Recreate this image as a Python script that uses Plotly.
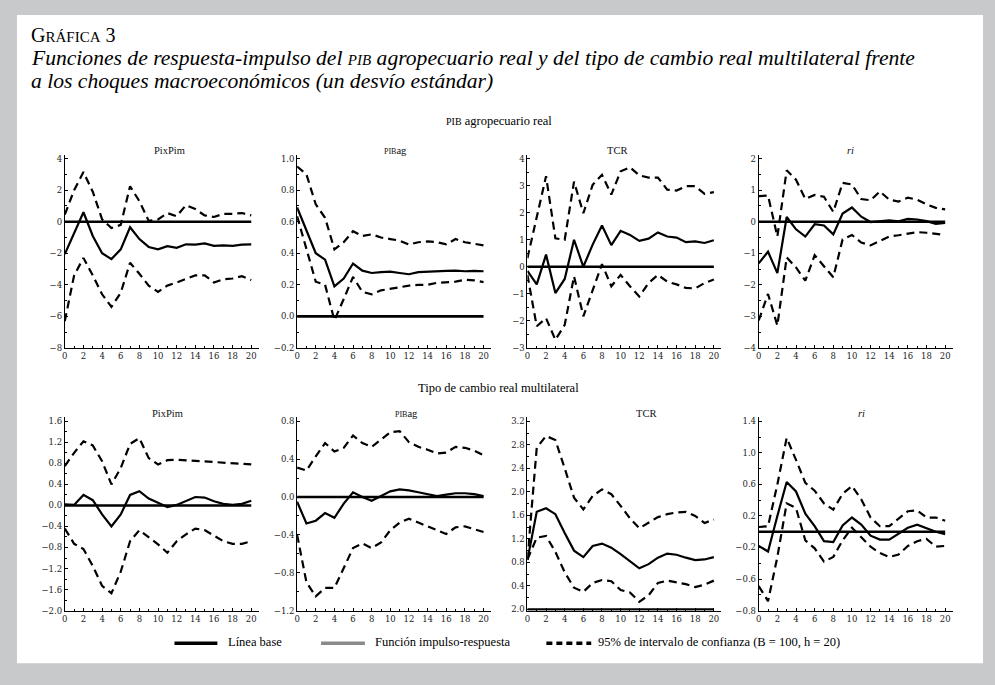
import plotly.graph_objects as go

# ---------------- data ----------------
horizon = list(range(21))
baseline_level = 0.0

# Row 1: PIB agropecuario real
pib_pixpim_irf = [-2.05, -0.7, 0.6, -0.9, -2.0, -2.37, -1.75, -0.35, -1.1, -1.6, -1.75, -1.55, -1.65, -1.43, -1.45, -1.37, -1.53, -1.5, -1.53, -1.45, -1.43]
pib_pixpim_up = [0.45, 2.0, 3.15, 1.9, 0.15, -0.4, -0.2, 2.25, 1.3, 0.05, 0.15, 0.55, 0.35, 1.05, 0.8, 0.4, 0.3, 0.5, 0.5, 0.55, 0.4]
pib_pixpim_lo = [-6.3, -3.4, -2.3, -3.4, -4.6, -5.4, -4.5, -2.6, -3.3, -4.05, -4.45, -4.05, -3.85, -3.65, -3.4, -3.4, -3.85, -3.65, -3.6, -3.45, -3.7]

pib_pibag_irf = [0.69, 0.55, 0.40, 0.36, 0.19, 0.24, 0.335, 0.29, 0.275, 0.28, 0.284, 0.275, 0.267, 0.28, 0.284, 0.284, 0.288, 0.29, 0.286, 0.288, 0.286]
pib_pibag_up = [0.95, 0.9, 0.71, 0.625, 0.425, 0.47, 0.54, 0.51, 0.52, 0.5, 0.49, 0.48, 0.455, 0.47, 0.475, 0.47, 0.457, 0.49, 0.47, 0.46, 0.45]
pib_pibag_lo = [0.635, 0.425, 0.22, 0.2, -0.025, 0.11, 0.25, 0.155, 0.14, 0.165, 0.175, 0.185, 0.195, 0.2, 0.2, 0.213, 0.217, 0.22, 0.232, 0.228, 0.217]

pib_tcr_irf = [-0.15, -0.65, 0.45, -0.97, -0.45, 1.0, 0.0, 0.82, 1.53, 0.8, 1.33, 1.18, 0.96, 1.04, 1.27, 1.12, 1.08, 0.91, 0.94, 0.88, 0.98]
pib_tcr_up = [0.32, 1.8, 3.35, 1.05, 1.0, 3.15, 1.98, 3.03, 3.4, 2.67, 3.53, 3.68, 3.38, 3.3, 3.3, 2.85, 2.82, 2.98, 2.98, 2.7, 2.76]
pib_tcr_lo = [-0.3, -2.2, -1.9, -2.7, -2.15, -0.35, -1.83, -0.9, 0.1, -0.72, -0.3, -0.72, -1.1, -0.6, -0.3, -0.55, -0.65, -0.78, -0.8, -0.6, -0.47]

pib_ri_irf = [-1.32, -0.95, -1.63, 0.15, -0.24, -0.47, -0.08, -0.12, -0.4, 0.26, 0.45, 0.16, -0.01, 0.01, 0.04, 0.01, 0.09, 0.07, 0.02, -0.07, -0.04]
pib_ri_up = [0.81, 0.83, -0.47, 1.63, 1.33, 0.72, 0.85, 0.79, 0.31, 1.23, 1.18, 0.72, 0.68, 0.96, 0.7, 0.64, 0.76, 0.7, 0.55, 0.44, 0.39]
pib_ri_lo = [-3.13, -2.29, -3.29, -1.13, -1.45, -1.87, -1.06, -1.4, -1.76, -0.56, -0.42, -0.66, -0.75, -0.61, -0.47, -0.43, -0.38, -0.33, -0.35, -0.38, -0.42]

# Row 2: Tipo de cambio real multilateral
tcr_pixpim_irf = [0.02, 0.01, 0.2, 0.1, -0.17, -0.4, -0.17, 0.2, 0.27, 0.13, 0.05, -0.03, 0.01, 0.08, 0.16, 0.15, 0.08, 0.03, 0.01, 0.03, 0.09]
tcr_pixpim_up = [0.75, 1.0, 1.22, 1.14, 0.84, 0.4, 0.71, 1.17, 1.28, 0.9, 0.78, 0.86, 0.87, 0.86, 0.85, 0.84, 0.83, 0.82, 0.81, 0.79, 0.78]
tcr_pixpim_lo = [-0.44, -0.73, -0.83, -1.15, -1.53, -1.67, -1.26, -0.68, -0.47, -0.61, -0.74, -0.9, -0.68, -0.55, -0.44, -0.47, -0.58, -0.68, -0.73, -0.73, -0.68]

tcr_pibag_irf = [-0.05, -0.28, -0.25, -0.17, -0.22, -0.07, 0.05, 0.0, -0.04, 0.01, 0.06, 0.08, 0.07, 0.05, 0.03, 0.01, 0.025, 0.04, 0.04, 0.03, 0.01]
tcr_pibag_up = [0.31, 0.28, 0.43, 0.57, 0.48, 0.52, 0.65, 0.57, 0.53, 0.61, 0.685, 0.695, 0.58, 0.53, 0.5, 0.46, 0.47, 0.53, 0.52, 0.49, 0.44]
tcr_pibag_lo = [-0.40, -0.9, -1.05, -0.96, -0.96, -0.75, -0.54, -0.49, -0.54, -0.48, -0.35, -0.27, -0.23, -0.27, -0.31, -0.35, -0.39, -0.32, -0.31, -0.34, -0.37]

tcr_tcr_irf = [0.84, 1.66, 1.72, 1.62, 1.3, 1.0, 0.89, 1.08, 1.12, 1.05, 0.94, 0.82, 0.70, 0.77, 0.88, 0.95, 0.93, 0.88, 0.84, 0.85, 0.89]
tcr_tcr_up = [0.85, 2.75, 2.95, 2.88, 2.4, 1.9, 1.7, 1.93, 2.04, 1.96, 1.76, 1.55, 1.38, 1.47, 1.57, 1.62, 1.65, 1.66, 1.59, 1.47, 1.53]
tcr_tcr_lo = [0.85, 1.22, 1.25, 0.98, 0.63, 0.37, 0.3, 0.45, 0.5, 0.48, 0.33, 0.29, 0.13, 0.24, 0.45, 0.49, 0.46, 0.43, 0.38, 0.42, 0.49]

tcr_ri_irf = [-0.18, -0.25, 0.2, 0.63, 0.51, 0.23, 0.07, -0.12, -0.13, 0.08, 0.18, 0.09, -0.05, -0.1, -0.1, -0.03, 0.05, 0.09, 0.04, 0.0, -0.03]
tcr_ri_up = [0.06, 0.07, 0.6, 1.19, 0.91, 0.62, 0.52, 0.36, 0.28, 0.48, 0.58, 0.41, 0.18, 0.07, 0.07, 0.16, 0.26, 0.27, 0.18, 0.18, 0.14]
tcr_ri_lo = [-0.69, -0.88, -0.32, 0.36, 0.3, -0.11, -0.21, -0.38, -0.32, -0.11, 0.05, -0.07, -0.19, -0.27, -0.32, -0.29, -0.18, -0.12, -0.09, -0.19, -0.18]

# tick labels (as printed in the original)
xtick_vals = list(range(0, 21, 2))
ytick_vals = [
    [-8, -6, -4, -2, 0, 2, 4],
    [-0.2, 0.0, 0.2, 0.4, 0.6, 0.8, 1.0],
    [-3, -2, -1, 0, 1, 2, 3, 4],
    [-4, -3, -2, -1, 0, 1, 2],
    [-2.0, -1.6, -1.2, -0.8, -0.4, 0.0, 0.4, 0.8, 1.2, 1.6],
    [-1.2, -0.8, -0.4, 0.0, 0.4, 0.8],
    [0.0, 0.4, 0.8, 1.2, 1.6, 2.0, 2.4, 2.8, 3.2],
    [-1.0, -0.6, -0.2, 0.2, 0.6, 1.0, 1.4],
]
ytick_text = [
    ["−8", "−6", "−4", "−2", "0", "2", "4"],
    ["−0.2", "0.0", "0.2", "0.4", "0.6", "0.8", "1.0"],
    ["−3", "−2", "−1", "0", "1", "2", "3", "4"],
    ["−4", "−3", "−2", "−1", "0", "1", "2"],
    ["−2.0", "−1.6", "−1.2", "−0.8", "−0.4", "0.0", "0.4", "0.8", "1.2", "1.6"],
    ["−1.2", "−0.8", "−0.4", "0.0", "0.4", "0.8"],
    ["2.0", "0.4", "0.8", "1.2", "1.6", "2.0", "2.4", "2.8", "3.2"],
    ["−0.8", "−0.6", "−0.2", "0.2", "0.6", "1.0", "1.4"],
]
ytick_minor = [1, 0.1, 0.5, 0.5, 0.2, 0.2, 0.2, 0.2]

panel_titles = ["PixPim", "<span style='font-size:8px'>PIB</span>ag", "TCR", "<i>ri</i>"] * 2
row_titles = ["<span style='font-size:10px'>PIB</span> agropecuario real", "Tipo de cambio real multilateral"]

series = [
    (pib_pixpim_irf, pib_pixpim_up, pib_pixpim_lo),
    (pib_pibag_irf, pib_pibag_up, pib_pibag_lo),
    (pib_tcr_irf, pib_tcr_up, pib_tcr_lo),
    (pib_ri_irf, pib_ri_up, pib_ri_lo),
    (tcr_pixpim_irf, tcr_pixpim_up, tcr_pixpim_lo),
    (tcr_pibag_irf, tcr_pibag_up, tcr_pibag_lo),
    (tcr_tcr_irf, tcr_tcr_up, tcr_tcr_lo),
    (tcr_ri_irf, tcr_ri_up, tcr_ri_lo),
]

legend_labels = ["Línea base", "Función impulso-respuesta", "95% de intervalo de confianza (B = 100, h = 20)"]

# ---------------- layout geometry (pixels) ----------------
W, H = 995, 685
col_left = [62, 295, 526, 758]
px_per_unit_x = 9.35
x_max = 20.8
row_top = [155, 420]
row_bot = [350, 615]
tick_top_px = [159, 424]
title_x_px = [[167, 394, 616, 850], [165, 405, 645, 861]]

def fx(px):
    return px / W

def fy(py):
    return 1 - py / H

SERIF = "Liberation Serif, Times New Roman, DejaVu Serif, serif"
TICKFONT = dict(family="DejaVu Serif, serif", size=8.5, color="#222")

fig = go.Figure()
layout = {}
annotations = []
shapes = []

# background: grey frame with white card
shapes.append(dict(type="rect", xref="paper", yref="paper", x0=fx(14), x1=fx(983),
                   y0=fy(668), y1=fy(14), fillcolor="white", line=dict(width=0), layer="below"))

DASH = "8px,5px"

for i in range(8):
    r, c = divmod(i, 4)
    n = i + 1
    xa = "x" if n == 1 else f"x{n}"
    ya = "y" if n == 1 else f"y{n}"
    xkey = "xaxis" if n == 1 else f"xaxis{n}"
    ykey = "yaxis" if n == 1 else f"yaxis{n}"
    irf, up, lo = series[i]

    fig.add_trace(go.Scatter(x=horizon, y=[baseline_level] * len(horizon), xaxis=xa, yaxis=ya,
                             mode="lines", line=dict(color="black", width=2.6),
                             showlegend=False, hoverinfo="skip"))
    fig.add_trace(go.Scatter(x=horizon, y=up, xaxis=xa, yaxis=ya, mode="lines",
                             line=dict(color="black", width=2.2, dash=DASH), showlegend=False))
    fig.add_trace(go.Scatter(x=horizon, y=lo, xaxis=xa, yaxis=ya, mode="lines",
                             line=dict(color="black", width=2.2, dash=DASH), showlegend=False))
    fig.add_trace(go.Scatter(x=horizon, y=irf, xaxis=xa, yaxis=ya, mode="lines",
                             line=dict(color="black", width=2.2), showlegend=False))

    x0 = col_left[c]
    x1 = x0 + x_max * px_per_unit_x
    tv = ytick_vals[i]
    span_ticks = tv[-1] - tv[0]
    ratio = (row_bot[r] - row_top[r]) / (row_bot[r] - tick_top_px[r])
    yr = [tv[0], tv[0] + span_ticks * ratio]
    if abs(tv[0] - baseline_level) < 1e-9:
        # baseline lies on the bottom axis: leave ~1px so the thick line is not clipped
        yr[0] = tv[0] - span_ticks * 1.2 / (row_bot[r] - tick_top_px[r])

    layout[xkey] = dict(domain=[fx(x0), fx(x1)], range=[0, x_max], anchor=ya,
                        tickvals=xtick_vals, ticktext=[str(v) for v in xtick_vals],
                        ticks="inside", ticklen=3, tickcolor="black", tickwidth=1,
                        showline=True, linecolor="black", linewidth=1,
                        mirror=False, showgrid=False, zeroline=False, tickfont=TICKFONT,
                        minor=dict(dtick=1, ticks="inside", ticklen=2, tickcolor="black"))
    layout[ykey] = dict(domain=[fy(row_bot[r]), fy(row_top[r])], range=yr, anchor=xa,
                        tickvals=tv, ticktext=ytick_text[i],
                        ticks="inside", ticklen=3, tickcolor="black", tickwidth=1,
                        showline=True, linecolor="black", linewidth=1,
                        showgrid=False, zeroline=False, tickfont=TICKFONT,
                        minor=dict(dtick=ytick_minor[i], tick0=tv[0], ticks="inside", ticklen=2, tickcolor="black"))

    annotations.append(dict(text=panel_titles[i], xref="paper", yref="paper",
                            x=fx(title_x_px[r][c]), y=fy(row_top[r] - 4), xanchor="center", yanchor="middle",
                            showarrow=False, font=dict(family=SERIF, size=10.5, color="#111")))

# titles
annotations.append(dict(text="G<span style='font-size:15px'>RÁFICA</span> 3", xref="paper", yref="paper",
                        x=fx(26), y=fy(34), xanchor="left", yanchor="middle", showarrow=False,
                        font=dict(family=SERIF, size=20, color="black")))
annotations.append(dict(text="<i>Funciones de respuesta-impulso del <span style='font-size:15px'>PIB</span> agropecuario real y del tipo de cambio real multilateral frente</i>",
                        xref="paper", yref="paper", x=fx(26), y=fy(58), xanchor="left", yanchor="middle",
                        showarrow=False, font=dict(family=SERIF, size=21.6, color="black")))
annotations.append(dict(text="<i>a los choques macroeconómicos (un desvío estándar)</i>",
                        xref="paper", yref="paper", x=fx(26), y=fy(81), xanchor="left", yanchor="middle",
                        showarrow=False, font=dict(family=SERIF, size=21.6, color="black")))
for r, ty in enumerate([121, 390]):
    annotations.append(dict(text=row_titles[r], xref="paper", yref="paper", x=fx(497), y=fy(ty),
                            xanchor="center", yanchor="middle", showarrow=False,
                            font=dict(family=SERIF, size=12.5, color="black")))

# legend (drawn as shapes + text)
leg_y = 648
leg_items = [
    (172, 215, "black", "solid", 224),
    (319, 363, "#8a8a8a", "solid", 371),
    (545, 590, "black", "6px,4px", 595),
]
for (lx0, lx1, col, dash, tx), lab in zip(leg_items, legend_labels):
    shapes.append(dict(type="line", xref="paper", yref="paper", x0=fx(lx0), x1=fx(lx1),
                       y0=fy(leg_y), y1=fy(leg_y), line=dict(color=col, width=3.5, dash=dash)))
    annotations.append(dict(text=lab, xref="paper", yref="paper", x=fx(tx), y=fy(leg_y - 1),
                            xanchor="left", yanchor="middle", showarrow=False,
                            font=dict(family=SERIF, size=12.5, color="black")))

fig.update_layout(width=W, height=H, margin=dict(l=0, r=0, t=0, b=0),
                  paper_bgcolor="#c8c9cb", plot_bgcolor="white",
                  showlegend=False, annotations=annotations, shapes=shapes, **layout)

fig.write_html("out.html", config={"displayModeBar": False},
               post_script="document.body.style.margin='0';document.body.style.padding='0';")
